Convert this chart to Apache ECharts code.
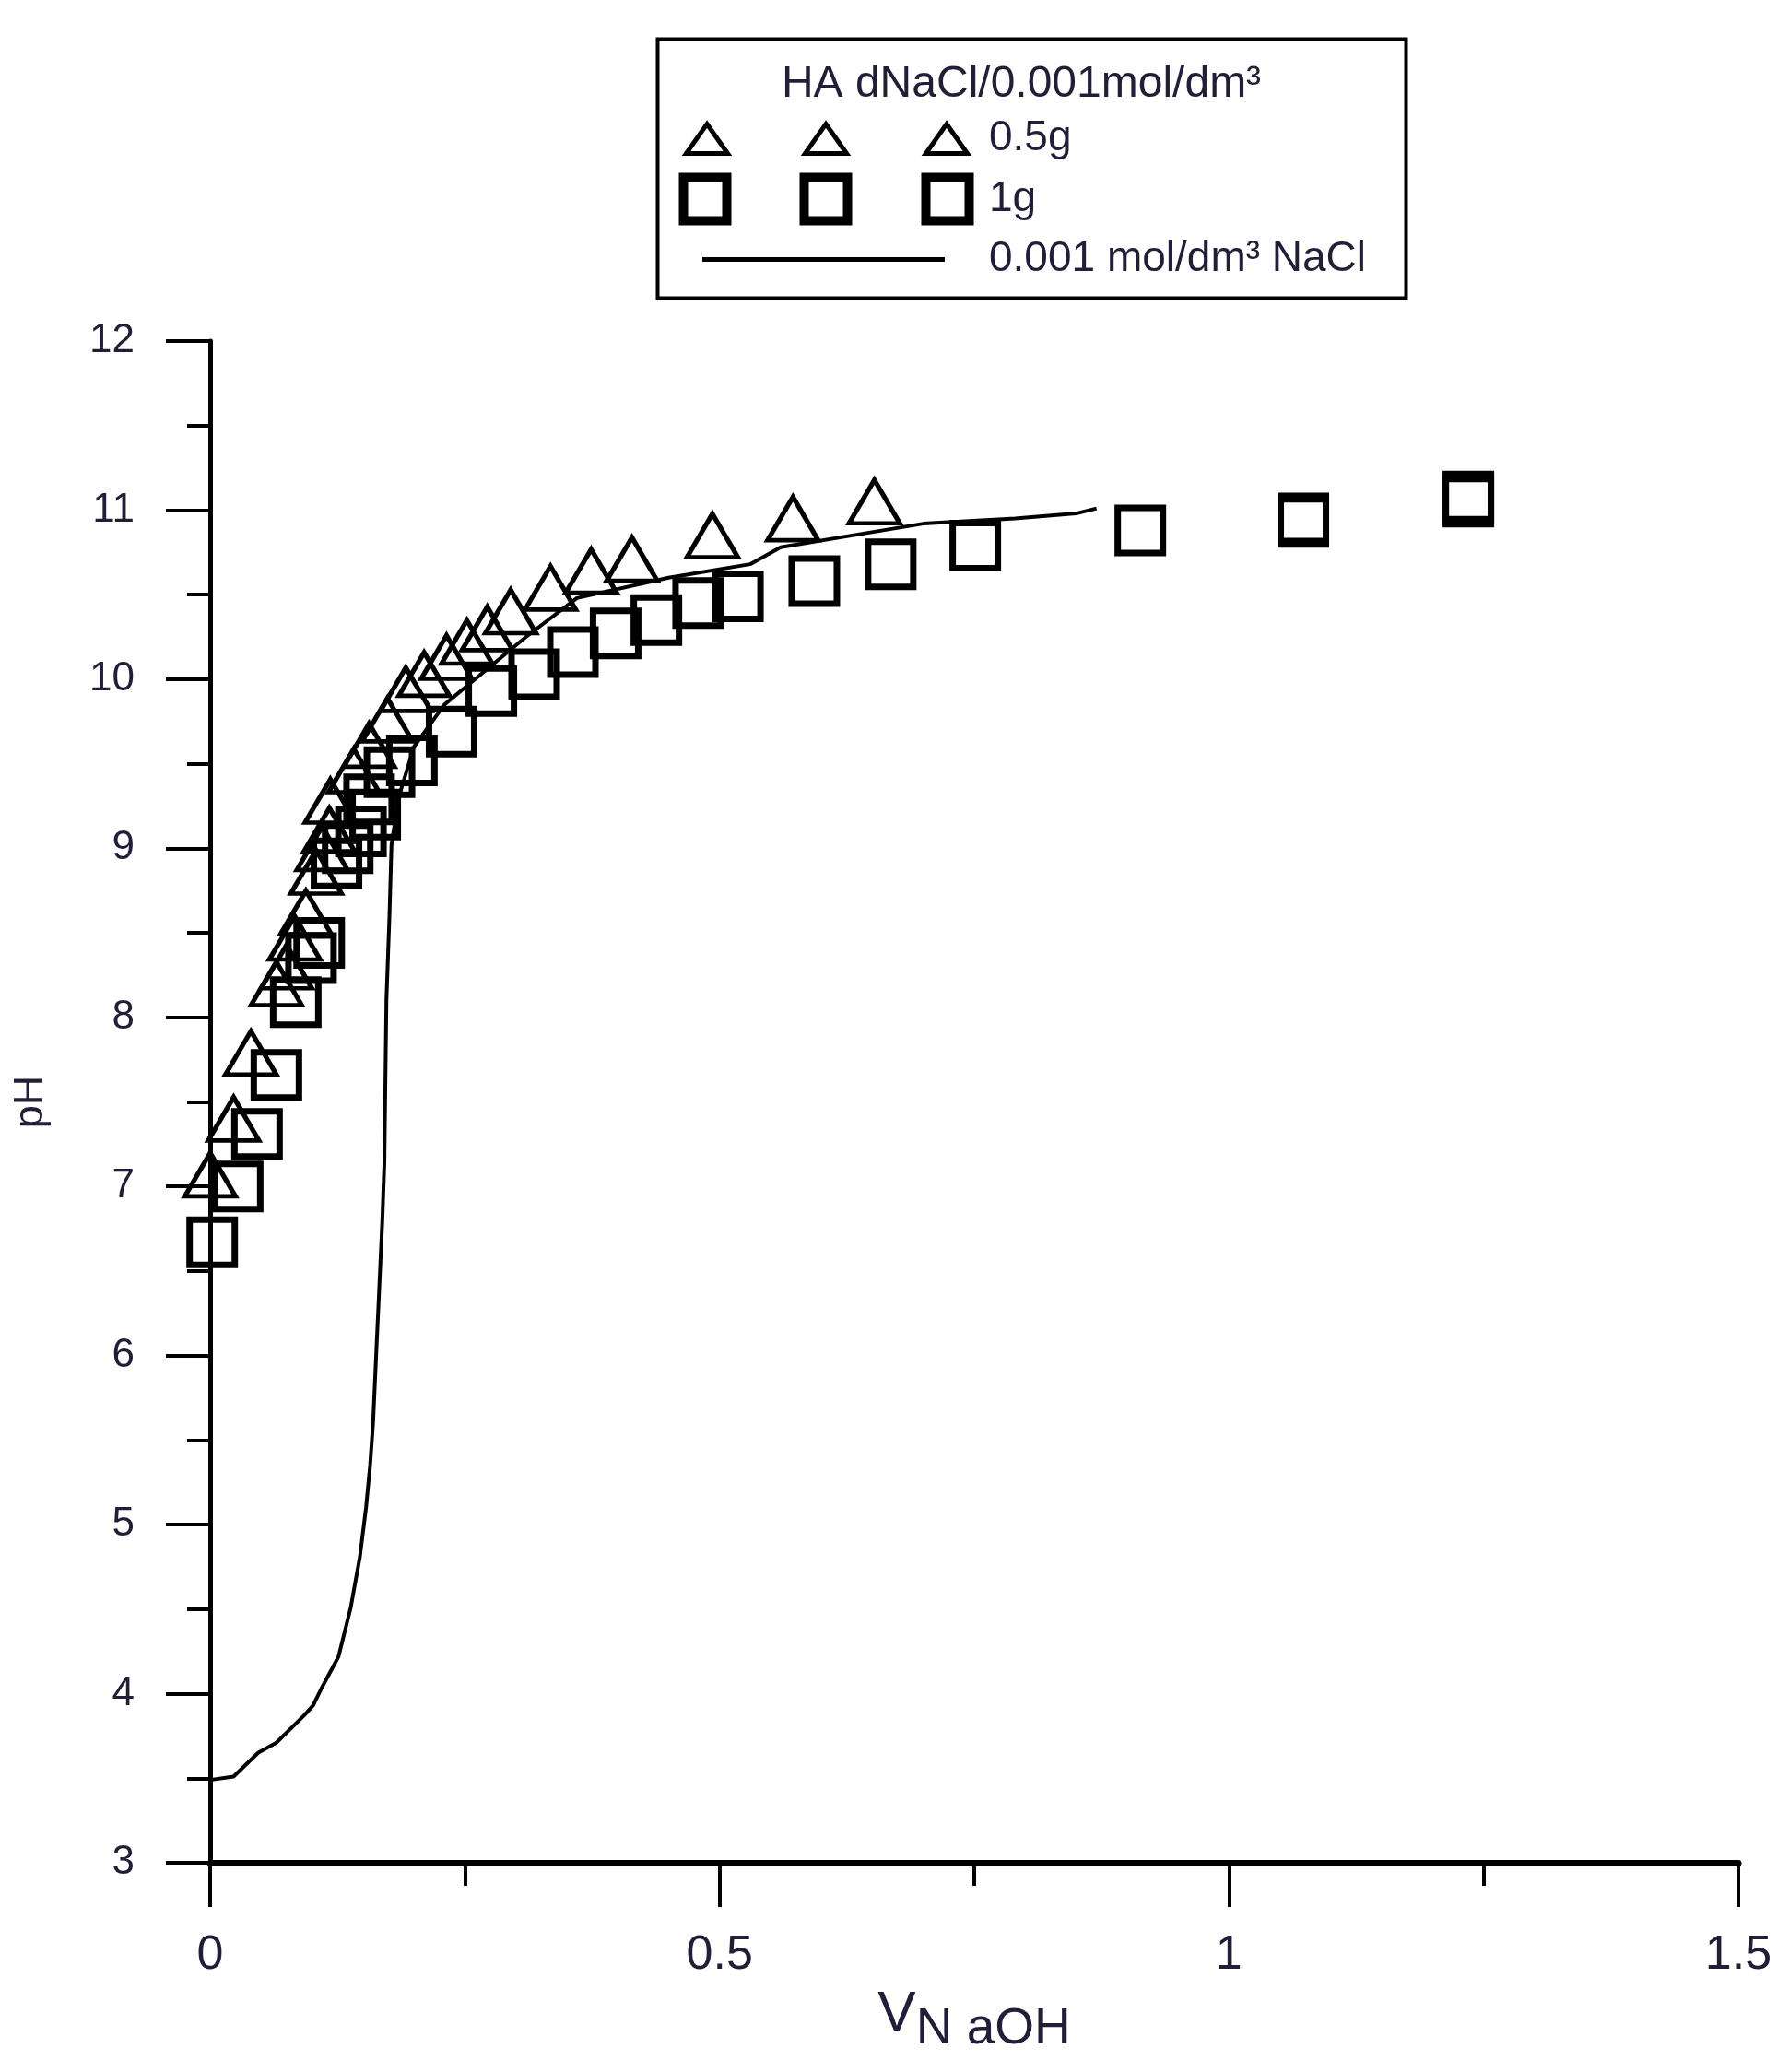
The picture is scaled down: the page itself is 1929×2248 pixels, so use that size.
<!DOCTYPE html>
<html>
<head>
<meta charset="utf-8">
<script src="https://cdn.jsdelivr.net/npm/echarts@6/dist/echarts.min.js"></script>
<style>html,body{margin:0;padding:0;background:#fff}#c{width:1929px;height:2248px}</style>
</head>
<body>
<div id="c"></div>
<script>
// ---- data ----
const triV  = [0.000, 0.023, 0.040, 0.065, 0.075, 0.083, 0.094, 0.104, 0.110, 0.117, 0.118, 0.141, 0.156, 0.174, 0.192, 0.210, 0.232, 0.252, 0.272, 0.295, 0.334, 0.374, 0.414, 0.493, 0.572, 0.652];
const triPH = [7.07, 7.40, 7.79, 8.20, 8.30, 8.47, 8.62, 8.86, 9.00, 9.11, 9.28, 9.46, 9.61, 9.76, 9.94, 10.03, 10.13, 10.22, 10.30, 10.40, 10.54, 10.64, 10.71, 10.85, 10.95, 11.05];

const sqV  = [0.002, 0.027, 0.046, 0.065, 0.084, 0.099, 0.107, 0.124, 0.135, 0.148, 0.156, 0.162, 0.176, 0.198, 0.237, 0.276, 0.318, 0.356, 0.398, 0.438, 0.479, 0.518, 0.593, 0.668, 0.751, 0.913, 1.073, 1.073, 1.235, 1.235];
const sqPH = [6.67, 7.00, 7.31, 7.66, 8.09, 8.35, 8.44, 8.91, 9.00, 9.10, 9.29, 9.20, 9.45, 9.52, 9.69, 9.93, 10.03, 10.16, 10.27, 10.35, 10.45, 10.49, 10.58, 10.68, 10.79, 10.88, 10.95, 10.93, 11.05, 11.08];

const lineV  = [0, 0.023, 0.047, 0.065, 0.092, 0.101, 0.110, 0.126, 0.138, 0.147, 0.153, 0.157, 0.160, 0.163, 0.166, 0.169, 0.171, 0.173, 0.176, 0.178, 0.185, 0.200, 0.230, 0.270, 0.310, 0.360, 0.450, 0.530, 0.560, 0.640, 0.700, 0.790, 0.850, 0.870];
const linePH = [3.49, 3.51, 3.65, 3.71, 3.87, 3.93, 4.04, 4.22, 4.51, 4.81, 5.10, 5.35, 5.61, 6.01, 6.40, 6.80, 7.14, 8.10, 8.60, 9.02, 9.30, 9.60, 9.85, 10.05, 10.25, 10.48, 10.60, 10.68, 10.78, 10.86, 10.92, 10.95, 10.98, 11.01];

const xTicks = [0, 0.5, 1, 1.5];
const yTicks = [3, 4, 5, 6, 7, 8, 9, 10, 11, 12];

const seriesNames = ['0.5g', '1g', '0.001 mol/dm\u00b3 NaCl'];
const legendTitle = 'HA dNaCl/0.001mol/dm\u00b3';
const xName = ['V', 'N aOH'];
const yName = 'pH';

// ---- chart ----
const FONT = '"Liberation Sans", Arial, sans-serif';
const TXT = '#241d38';
const chart = echarts.init(document.getElementById('c'), null, {renderer: 'canvas'});

const W = 332, H = 58;
const box = 'M0,0 M' + W + ',' + H + ' ';
const triIcon = 'path://' + box + [31, 160, 291].map(cx => `M${cx},13 L${cx + 22.5},45 L${cx - 22.5},45 Z`).join(' ');
const sqIcon = 'path://' + box + [29, 160, 292].map(cx => `M${cx - 23.5},5.5 L${cx + 23.5},5.5 L${cx + 23.5},52.5 L${cx - 23.5},52.5 Z`).join(' ');
const lnIcon = 'path://' + box + 'M26,29 L289,29';

const pair = (a, b) => a.map((v, i) => [v, b[i]]);

chart.setOption({
  animation: false,
  backgroundColor: '#fff',
  grid: {left: 228, right: 43, top: 370, bottom: 227, containLabel: false, outerBoundsMode: 'none', show: false},
  graphic: [
    {type: 'rect', left: 711, top: 40, shape: {width: 812, height: 281}, style: {fill: 'none', stroke: '#000', lineWidth: 4}, z: 10},
    {type: 'text', x: 1108, y: 92, style: {text: legendTitle, fill: TXT, font: '48px ' + FONT, textAlign: 'center', textVerticalAlign: 'middle'}, z: 10}
  ],
  legend: {
    orient: 'vertical', left: 731, top: 119, padding: 0,
    itemWidth: W, itemHeight: H, itemGap: 0,
    symbolKeepAspect: true, selectedMode: false,
    textStyle: {fontSize: 46, lineHeight: 50, color: TXT, fontFamily: FONT},
    data: [
      {name: seriesNames[0], icon: triIcon, itemStyle: {color: 'rgba(0,0,0,0)', borderColor: '#000', borderWidth: 5, opacity: 1}},
      {name: seriesNames[1], icon: sqIcon, itemStyle: {color: 'rgba(0,0,0,0)', borderColor: '#000', borderWidth: 10, opacity: 1}},
      {name: seriesNames[2], icon: lnIcon, itemStyle: {color: 'rgba(0,0,0,0)', borderColor: '#000', borderWidth: 5, opacity: 1}}
    ]
  },
  xAxis: {
    type: 'value', min: xTicks[0], max: xTicks[xTicks.length - 1], interval: xTicks[1] - xTicks[0],
    axisLine: {show: true, onZero: false, lineStyle: {color: '#000', width: 7}},
    axisTick: {show: true, length: 48, lineStyle: {color: '#000', width: 4}},
    minorTick: {show: true, splitNumber: 2, length: 25, lineStyle: {color: '#000', width: 4}},
    splitLine: {show: false},
    axisLabel: {fontSize: 52, color: TXT, fontFamily: FONT, margin: 75},
    name: '{v|' + xName[0] + '}{s|' + xName[1] + '}',
    nameLocation: 'middle', nameGap: 134,
    nameTextStyle: {
      fontFamily: FONT, color: TXT,
      rich: {
        v: {fontSize: 62, fontFamily: FONT, color: TXT, padding: [0, 0, 20, 0]},
        s: {fontSize: 55, fontFamily: FONT, color: TXT, padding: [12, 0, 0, 0]}
      }
    }
  },
  yAxis: {
    type: 'value', min: yTicks[0], max: yTicks[yTicks.length - 1], interval: yTicks[1] - yTicks[0],
    axisLine: {show: true, onZero: false, lineStyle: {color: '#000', width: 5}},
    axisTick: {show: true, length: 48, lineStyle: {color: '#000', width: 4}},
    minorTick: {show: true, splitNumber: 2, length: 25, lineStyle: {color: '#000', width: 4}},
    splitLine: {show: false},
    axisLabel: {fontSize: 44, color: TXT, fontFamily: FONT, margin: 82},
    name: yName, nameLocation: 'middle', nameGap: 172,
    nameTextStyle: {fontSize: 45, color: TXT, fontFamily: FONT}
  },
  series: [
    {
      name: seriesNames[2], type: 'line', data: pair(lineV, linePH),
      symbol: 'none', showSymbol: false, smooth: false,
      lineStyle: {color: '#000', width: 4, opacity: 1}, itemStyle: {color: '#000'}, z: 2
    },
    {
      name: seriesNames[0], type: 'scatter', data: pair(triV, triPH),
      symbol: 'triangle', symbolSize: [55, 47],
      itemStyle: {color: 'rgba(0,0,0,0)', borderColor: '#000', borderWidth: 5, opacity: 1}, z: 3
    },
    {
      name: seriesNames[1], type: 'scatter', data: pair(sqV, sqPH),
      symbol: 'rect', symbolSize: 49,
      itemStyle: {color: 'rgba(0,0,0,0)', borderColor: '#000', borderWidth: 7, opacity: 1}, z: 3
    }
  ]
});
</script>
</body>
</html>
